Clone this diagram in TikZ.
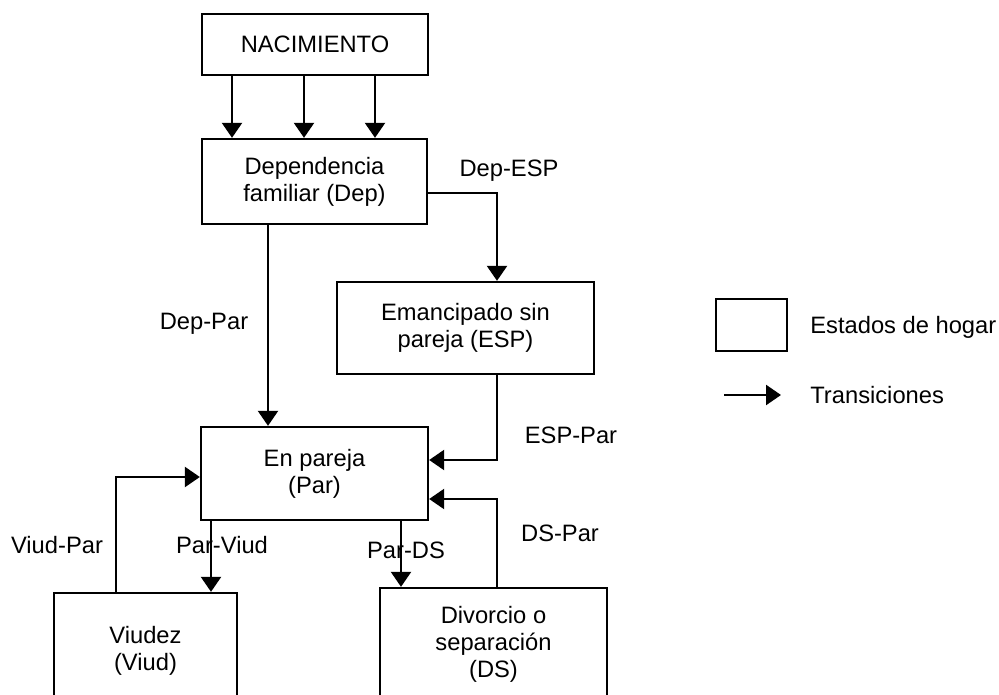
\documentclass[tikz,border=0pt]{standalone}
\usepackage{fontspec}
\setmainfont{Liberation Sans}
\usetikzlibrary{arrows.meta,positioning}

\begin{document}
\begin{tikzpicture}[x=0.02cm, y=-0.02cm]
\tikzset{
    box/.style={rectangle, draw, line width=1.35pt, inner sep=0pt, align=center,
        font=\fontsize{13.5}{15.4}\selectfont},
    trans/.style={line width=1.35pt, -{Triangle[length=0.3cm, width=0.4cm]}},
    lbl/.style={font=\fontsize{13.5}{15.4}\selectfont, inner sep=0pt}
}
  \clip (0,0) rectangle (999,695);

  \node[box, minimum width=4.52cm, minimum height=1.22cm] (nac) at (315,44.5) {NACIMIENTO};
  \node[box, minimum width=4.5cm, minimum height=1.7cm] (dep) at (314.5,181.5) {Dependencia\\familiar (Dep)};
  \node[box, minimum width=5.14cm, minimum height=1.84cm] (esp) at (465.5,328) {Emancipado sin\\pareja (ESP)};
  \node[box, minimum width=4.54cm, minimum height=1.86cm] (par) at (314.5,473.5) {En pareja\\(Par)};
  \node[box, minimum width=3.66cm, minimum height=2.32cm] (viud) at (145.5,651) {Viudez\\(Viud)};
  \node[box, minimum width=4.54cm, minimum height=2.24cm] (ds) at (493.5,644) {Divorcio o\\separaci\'on\\(DS)};

  % nacimiento -> dependencia
  \foreach \xx in {232,304,375}
    \draw[trans] (\xx,0 |- nac.south) -- (\xx,0 |- dep.north);

  \draw[trans] (dep.east |- 0,193) -| (497,0 |- esp.north);
  \draw[trans] (268,0 |- dep.south) -- (268,0 |- par.north);
  \draw[trans] (497,0 |- esp.south) |- (par.east |- 0,460);
  \draw[trans] (497,0 |- ds.north) |- (par.east |- 0,499);
  \draw[trans] (401,0 |- par.south) -- (401,0 |- ds.north);
  \draw[trans] (211,0 |- par.south) -- (211,0 |- viud.north);
  \draw[trans] (116,0 |- viud.north) |- (par.west |- 0,477);

  \node[lbl] (ldepesp) at (509,171) {Dep-ESP};
  \node[lbl] (ldeppar) at (204,324) {Dep-Par};
  \node[lbl] (lesppar) at (571,435) {ESP-Par};
  \node[lbl] (ldspar) at (560,533) {DS-Par};
  \node[lbl] (lpards) at (406,550) {Par-DS};
  \node[lbl] (lparviud) at (222,545) {Par-Viud};
  \node[lbl] (lviudpar) at (57,545) {Viud-Par};

  % leyenda
  \node[box, minimum width=1.42cm, minimum height=1.04cm] (legbox) at (751.5,325) {};
  \node[lbl, anchor=west] (legstates) at (810,327) {Estados de hogar};
  \coordinate (legA) at (724,395);
  \coordinate (legB) at (781,395);
  \draw[trans] (legA) -- (legB);
  \node[lbl, anchor=west] (legtrans) at (810,395) {Transiciones};
\end{tikzpicture}
\end{document}
